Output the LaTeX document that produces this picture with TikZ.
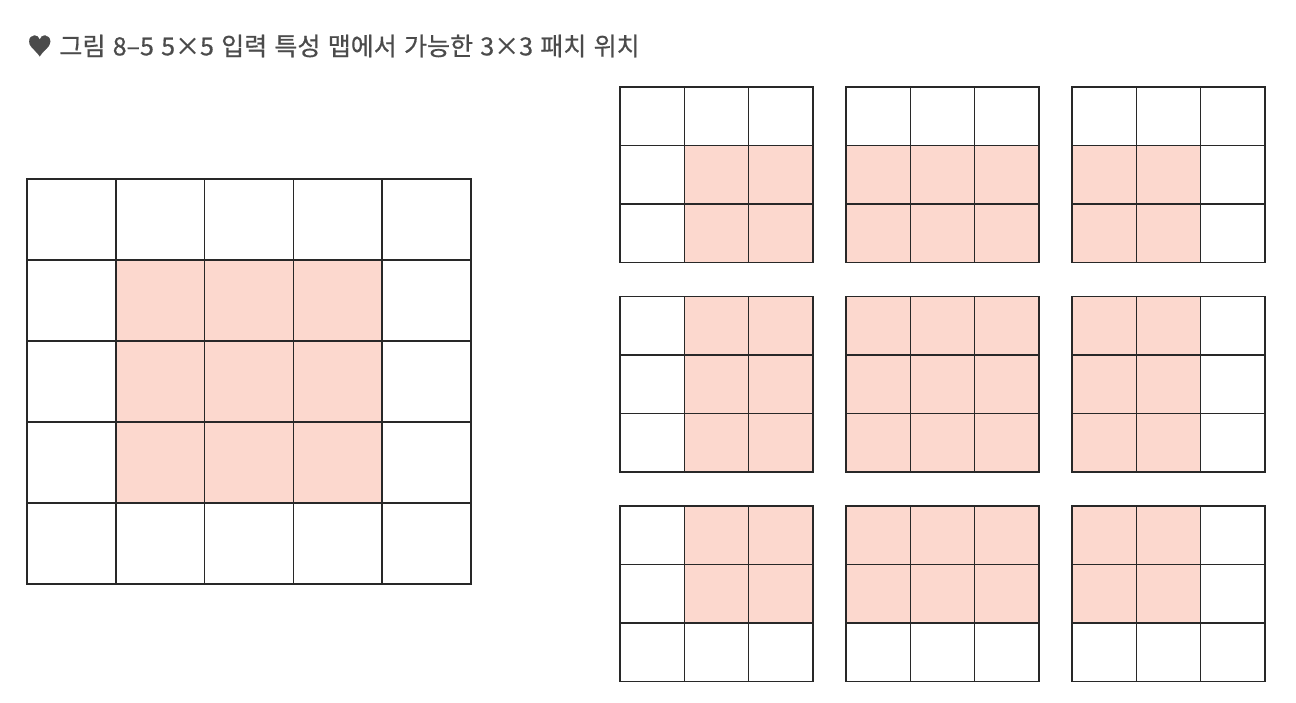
\documentclass[tikz,border=0pt]{standalone}
\usepackage{fontspec}
\usepackage{tikz}
\usetikzlibrary{positioning}
\newfontfamily\krfont[WordSpace=1.3, FakeBold=0.6]{Noto Sans CJK KR}
\definecolor{patchpink}{RGB}{252,216,206}
\definecolor{gridgray}{RGB}{40,40,40}
\definecolor{titlegray}{RGB}{75,75,75}
\tikzstyle{cellline} = [line width=1.5pt, color=gridgray, line cap=rect]
\tikzstyle{caption} = [anchor=west, inner sep=0pt, text=titlegray, font=\krfont\fontsize{25}{29}\selectfont]

\begin{document}
\begin{tikzpicture}[x=1pt, y=-1pt]
\useasboundingbox (0,0) rectangle (1296,702);

% Title
\node[caption] (title) at (27,46) {♥ 그림 8–5 5×5 입력 특성 맵에서 가능한 3×3 패치 위치};

% 5x5 input feature map
\fill[patchpink] (27+88.8,179+81) rectangle (27+4*88.8,179+4*81);
\foreach \k in {0,...,5} {
  \draw[cellline] (27+\k*88.8,179) -- (27+\k*88.8,584);
  \draw[cellline] (27,179+\k*81) -- (471,179+\k*81);
}

% 3x3 patches, one per position
\foreach \gr in {0,1,2} {
  \foreach \gc in {0,1,2} {
    \pgfmathsetmacro{\ox}{620+\gc*226}
    \pgfmathsetmacro{\oy}{87+\gr*209.5}
    \pgfmathsetmacro{\ca}{max(0,1-\gc)}
    \pgfmathsetmacro{\cb}{min(3,4-\gc)}
    \pgfmathsetmacro{\ra}{max(0,1-\gr)}
    \pgfmathsetmacro{\rb}{min(3,4-\gr)}
    \fill[patchpink] (\ox+\ca*64.3,\oy+\ra*58.5) rectangle (\ox+\cb*64.3,\oy+\rb*58.5);
    \foreach \k in {0,...,3} {
      \draw[cellline] (\ox+\k*64.3,\oy) -- (\ox+\k*64.3,\oy+175.5);
      \draw[cellline] (\ox,\oy+\k*58.5) -- (\ox+193,\oy+\k*58.5);
    }
  }
}
\end{tikzpicture}
\end{document}
